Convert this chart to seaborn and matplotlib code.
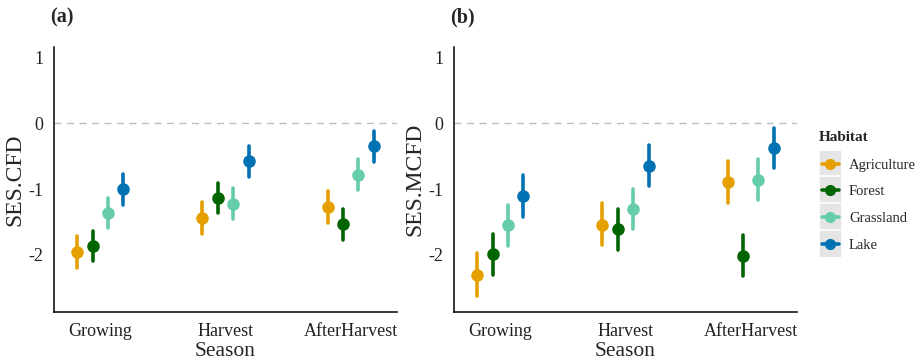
import matplotlib
matplotlib.use("Agg")
import matplotlib.pyplot as plt
import seaborn as sns
import pandas as pd
from matplotlib.lines import Line2D
from matplotlib.patches import Rectangle
from matplotlib.legend_handler import HandlerBase

# data: estimate with lower / upper bounds of the interval
seasons = ["Growing", "Harvest", "AfterHarvest"]
habitats = ["Agriculture", "Forest", "Grassland", "Lake"]
colors = ["#E69F00", "#006400", "#66CDAA", "#0072B2"]

# panel (a) SES.CFD, rows = season, cols = habitat
cfd_mid = [[-1.96, -1.87, -1.37, -1.00],
           [-1.44, -1.13, -1.22, -0.58],
           [-1.27, -1.53, -0.78, -0.35]]
cfd_lo = [[-2.20, -2.10, -1.60, -1.24],
          [-1.68, -1.37, -1.46, -0.82],
          [-1.52, -1.77, -1.02, -0.59]]
cfd_hi = [[-1.72, -1.64, -1.13, -0.77],
          [-1.20, -0.91, -0.99, -0.34],
          [-1.03, -1.30, -0.55, -0.11]]

# panel (b) SES.MCFD
mcfd_mid = [[-2.30, -1.99, -1.55, -1.11],
            [-1.54, -1.61, -1.31, -0.65],
            [-0.89, -2.02, -0.86, -0.37]]
mcfd_lo = [[-2.62, -2.30, -1.86, -1.42],
           [-1.85, -1.92, -1.61, -0.95],
           [-1.21, -2.32, -1.16, -0.68]]
mcfd_hi = [[-1.98, -1.69, -1.24, -0.79],
           [-1.21, -1.31, -1.00, -0.33],
           [-0.58, -1.70, -0.55, -0.07]]


def long_table(mid, lo, hi):
    rows = []
    for i, s in enumerate(seasons):
        for j, h in enumerate(habitats):
            for v in (lo[i][j], mid[i][j], hi[i][j]):
                rows.append({"Season": s, "Habitat": h, "value": v})
    return pd.DataFrame(rows)


sns.set_style("white")
plt.rcParams["font.family"] = ["Liberation Serif", "DejaVu Serif"]
plt.rcParams["axes.unicode_minus"] = False

fig = plt.figure(figsize=(9.18, 3.62), dpi=100)
ax_a = fig.add_axes([54 / 918, 50 / 362, 343 / 918, 265 / 362])
ax_b = fig.add_axes([454 / 918, 50 / 362, 343 / 918, 265 / 362])

panels = [(ax_a, long_table(cfd_mid, cfd_lo, cfd_hi), "SES.CFD", "(a)"),
          (ax_b, long_table(mcfd_mid, mcfd_lo, mcfd_hi), "SES.MCFD", "(b)")]

for ax, df, ylab, tag in panels:
    ax.axhline(0, color="#BDBDBD", lw=1, ls=(0, (5, 4)), zorder=0)
    sns.pointplot(data=df, x="Season", y="value", hue="Habitat",
                  order=seasons, hue_order=habitats, palette=colors,
                  estimator="median", errorbar=lambda v: (v.min(), v.max()),
                  dodge=0.37, linestyle="none", markers="o", markersize=7,
                  err_kws={"linewidth": 2.6}, capsize=0, legend=False, ax=ax)
    ax.set_xlim(-0.37, 2.37)
    ax.set_ylim(-2.87, 1.16)
    ax.set_yticks([1, 0, -1, -2])
    ax.set_yticklabels(["1", "0", "-1", "-2"])
    ax.set_xlabel("Season", fontsize=15.5, labelpad=1)
    ax.set_ylabel(ylab, fontsize=17, labelpad=2)
    ax.tick_params(axis="both", labelsize=13, length=4, width=1,
                   color="#333333", labelcolor="#222222", direction="out")
    ax.tick_params(axis="x", pad=4)
    for side in ("top", "right"):
        ax.spines[side].set_visible(False)
    for side in ("left", "bottom"):
        ax.spines[side].set_linewidth(1.1)
        ax.spines[side].set_color("black")
    ax.text(-0.01, 1.11, tag, transform=ax.transAxes, fontsize=14.5,
            fontweight="bold", ha="left", va="center")


class KeyHandler(HandlerBase):
    def create_artists(self, legend, orig, xd, yd, w, h, fontsize, trans):
        c = orig.get_color()
        bg = Rectangle((-xd, -yd - 4), w, h + 8, facecolor="#E5E5E5",
                       edgecolor="white", lw=1.2, transform=trans)
        bar = Line2D([-xd + 2, -xd + w - 2], [-yd + h / 2] * 2, color=c,
                     lw=2.6, transform=trans)
        dot = Line2D([-xd + w / 2], [-yd + h / 2], marker="o", color=c,
                     markersize=7, linestyle="none", transform=trans)
        return [bg, bar, dot]


handles = [Line2D([], [], color=c) for c in colors]
leg = fig.legend(handles, habitats, loc="upper left",
                 bbox_to_anchor=(819 / 918, 1 - 131 / 362), frameon=False,
                 title="Habitat", fontsize=10.5, title_fontsize=11,
                 handler_map={Line2D: KeyHandler()}, handlelength=1.55,
                 handleheight=1.45, labelspacing=0.64, handletextpad=0.5,
                 borderpad=0, borderaxespad=0, alignment="left")
leg.get_title().set_fontweight("bold")
leg._legend_box.sep = 8

fig.savefig("out.png", dpi=100)
